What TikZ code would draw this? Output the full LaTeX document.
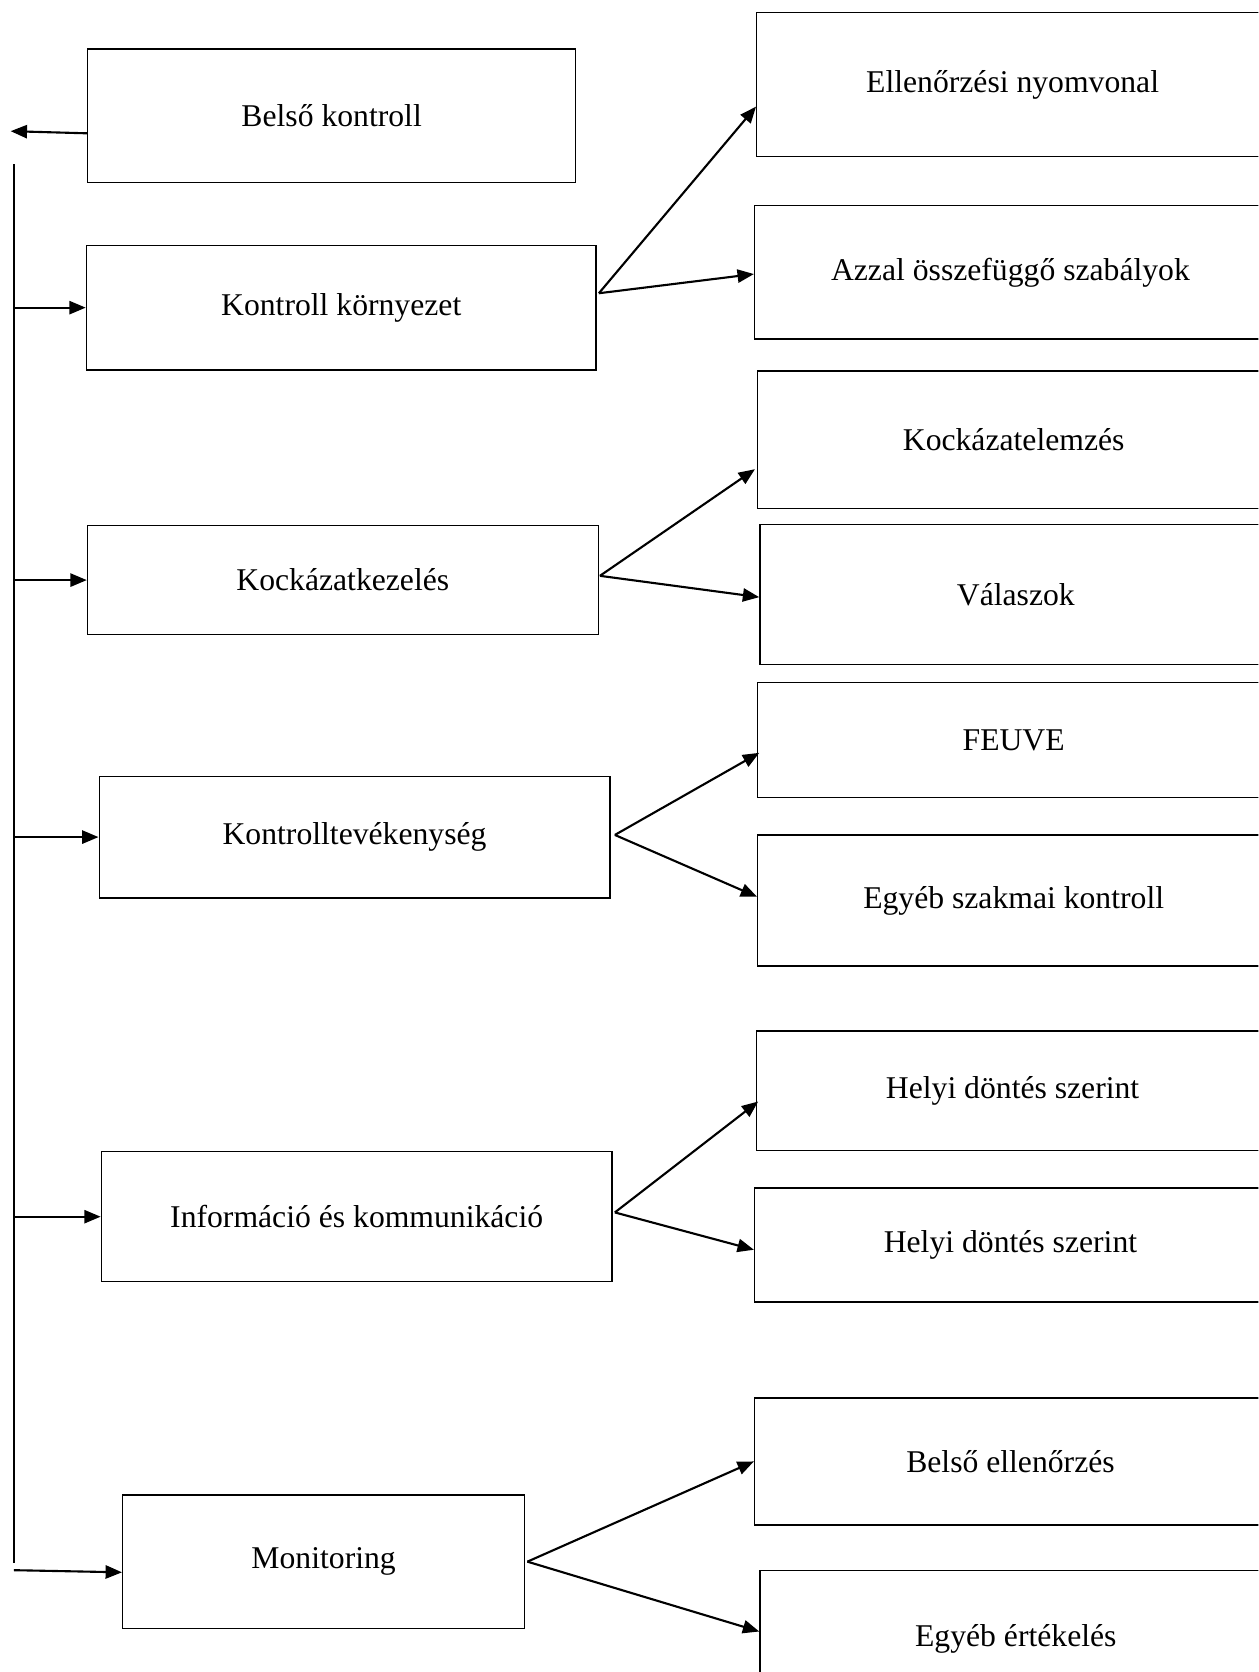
\documentclass[tikz,border=0pt]{standalone}
\usepackage{fontspec}
\setmainfont{Liberation Serif}
\usetikzlibrary{calc,arrows.meta}
\newcommand\pxu{0.404pt}

\begin{document}
\begin{tikzpicture}[x=0.404pt, y=-0.404pt,
      every node/.style={font=\fontsize{12}{14}\selectfont, inner sep=0pt},
      lbox/.style={draw, line width=0.5pt, minimum width=479*\pxu, minimum height=#1*\pxu},
      rbox/.style={draw, line width=0.5pt, anchor=west, minimum width=480*\pxu, minimum height=#1*\pxu},
      arr/.style={line width=0.8pt, -{Triangle[length=6.2pt,width=5pt]}}]
    \clip (0,0) rectangle (1180,1568);
    \node[lbox=125, minimum width=458*\pxu] (belso)     at (311,108.5)  {Belső kontroll};
    \node[lbox=117, minimum width=478*\pxu] (kornyezet) at (320,288.5)  {Kontroll környezet};
    \node[lbox=102]                         (kockazat)  at (321.5,544)  {Kockázatkezelés};
    \node[lbox=114]                         (tevekeny)  at (332.5,785)  {Kontrolltevékenység};
    \node[lbox=122]                         (inform)    at (334.5,1141) {Információ és kommunikáció};
    \node[lbox=125, minimum width=377*\pxu] (monitor)   at (303.5,1464.5) {Monitoring};

    \node[rbox=135] (ellen)   at (709,79.5)   {Ellenőrzési nyomvonal};
    \node[rbox=125] (azzal)   at (707,255.5)  {Azzal összefüggő szabályok};
    \node[rbox=129] (kelemz)  at (710,412.5)  {Kockázatelemzés};
    \node[rbox=131] (valasz)  at (712,557.5)  {Válaszok};
    \node[rbox=108] (feuve)   at (710,694)    {FEUVE};
    \node[rbox=123] (szakmai) at (710,844.5)  {Egyéb szakmai kontroll};
    \node[rbox=112] (helyia)  at (709,1023)   {Helyi döntés szerint};
    \node[rbox=107] (helyib)  at (707,1167.5) {Helyi döntés szerint};
    \node[rbox=119] (bellen)  at (707,1370.5) {Belső ellenőrzés};
    \node[rbox=127] (ertek)   at (712,1536.5) {Egyéb értékelés};

    \coordinate (kimenet) at (10,123);
    \coordinate (vtop) at (13,154);
    \coordinate (vbot) at (13,1466);
    \draw[arr] ($(belso.west)+(0,16.5)$) -- (kimenet);
    \draw[line width=0.8pt] (vtop) -- (vbot);
    \draw[arr] (vtop |- kornyezet.west) -- (kornyezet.west);
    \draw[arr] (vtop |- kockazat.west) -- (kockazat.west);
    \draw[arr] (vtop |- tevekeny.west) -- (tevekeny.west);
    \draw[arr] (vtop |- inform.west) -- (inform.west);
    \draw[arr] ($(vtop |- monitor.west)+(0,8)$) -- ($(monitor.west)+(0,10)$);

    \draw[arr] ($(kornyezet.east)+(2,-13.5)$) -- ($(ellen.west)+(0,20.5)$);
    \draw[arr] ($(kornyezet.east)+(2,-13.5)$) -- ($(azzal.west)+(0,1.5)$);
    \draw[arr] ($(kockazat.east)+(1,-4)$) -- ($(kelemz.west)+(-2,27.5)$);
    \draw[arr] ($(kockazat.east)+(1,-4)$) -- ($(valasz.west)+(0,2.5)$);
    \draw[arr] ($(tevekeny.east)+(4,-2)$) -- ($(feuve.west)+(2,12)$);
    \draw[arr] ($(tevekeny.east)+(4,-2)$) -- ($(szakmai.west)+(0,-3.5)$);
    \draw[arr] ($(inform.east)+(2,-4)$) -- ($(helyia.west)+(2,10)$);
    \draw[arr] ($(inform.east)+(2,-4)$) -- ($(helyib.west)+(0,4.5)$);
    \draw[arr] ($(monitor.east)+(2,0)$) -- (bellen.west);
    \draw[arr] ($(monitor.east)+(2,0)$) -- ($(ertek.west)+(0,-6.5)$);
  \end{tikzpicture}
\end{document}
